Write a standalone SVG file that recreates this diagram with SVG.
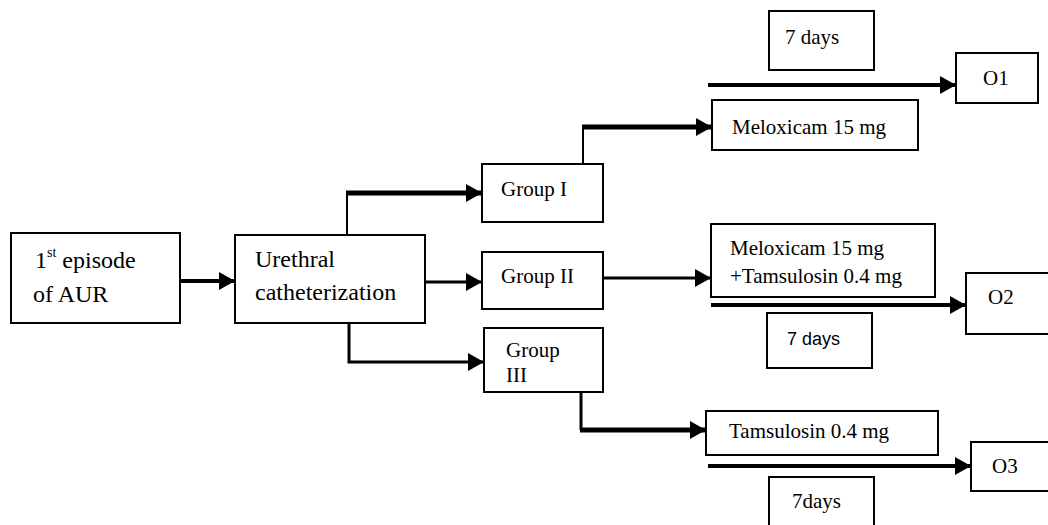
<svg xmlns="http://www.w3.org/2000/svg" width="1048" height="525" viewBox="0 0 1048 525">
<style>
.box{fill:#fff;stroke:#000;stroke-width:2}
.t{font-family:"Liberation Serif","Times New Roman",serif;font-size:21px;fill:#000}
.tl{font-family:"Liberation Serif","Times New Roman",serif;font-size:24px;fill:#000}
.ts{font-family:"Liberation Sans",Arial,sans-serif;font-size:18px;fill:#000}
.c{fill:none;stroke:#000}
</style>
<defs>
<marker id="ah" markerUnits="userSpaceOnUse" markerWidth="16" markerHeight="18" refX="16" refY="9" orient="auto">
<path d="M0,0 L16,9 L0,18 z" fill="#000"/>
</marker>
</defs>
<rect width="1048" height="525" fill="#fff"/>
<g id="connectors">
<path class="c" stroke-width="4" d="M180,281 H235" marker-end="url(#ah)"/>
<path class="c" stroke-width="2" d="M347,235 V191"/>
<path class="c" stroke-width="5" d="M346,193 H482" marker-end="url(#ah)"/>
<path class="c" stroke-width="3" d="M423,282 H482" marker-end="url(#ah)"/>
<path class="c" stroke-width="3" d="M349,323 V362 H484" marker-end="url(#ah)"/>
<path class="c" stroke-width="2" d="M583,164 V125"/>
<path class="c" stroke-width="5" d="M582,127 H712" marker-end="url(#ah)"/>
<path class="c" stroke-width="3" d="M603,278 H711" marker-end="url(#ah)"/>
<path class="c" stroke-width="4" d="M708,85 H956" marker-end="url(#ah)"/>
<path class="c" stroke-width="4" d="M711,305 H966" marker-end="url(#ah)"/>
<path class="c" stroke-width="3" d="M581,392 V430"/>
<path class="c" stroke-width="5" d="M580,430 H706" marker-end="url(#ah)"/>
<path class="c" stroke-width="4" d="M708,466 H971" marker-end="url(#ah)"/>
</g>
<g id="aur">
<rect class="box" x="11" y="233" width="169" height="90"/>
<text class="tl" x="35" y="268">1<tspan font-size="14" dy="-11">st</tspan><tspan dy="11"> episode</tspan></text>
<text class="tl" x="33" y="302">of AUR</text>
</g>
<g id="catheter">
<rect class="box" x="235" y="235" width="190" height="88"/>
<text class="tl" x="255" y="267">Urethral</text>
<text class="tl" x="255" y="300">catheterization</text>
</g>
<g id="group1">
<rect class="box" x="482" y="164" width="121" height="58"/>
<text class="t" x="501" y="196">Group  I</text>
</g>
<g id="group2">
<rect class="box" x="482" y="252" width="121" height="57"/>
<text class="t" x="501" y="283">Group  II</text>
</g>
<g id="group3">
<rect class="box" x="484" y="328" width="119" height="64"/>
<text class="t" x="506" y="357">Group</text>
<text class="t" x="506" y="382">III</text>
</g>
<g id="meloxicam">
<rect class="box" x="712" y="100" width="206" height="50"/>
<text class="t" x="732" y="134">Meloxicam 15 mg</text>
</g>
<g id="days1">
<rect class="box" x="769" y="11" width="105" height="59"/>
<text class="t" x="785" y="44">7 days</text>
</g>
<g id="o1">
<rect class="box" x="956" y="53" width="82" height="50"/>
<text class="t" x="983" y="85">O1</text>
</g>
<g id="meltam">
<rect class="box" x="711" y="224" width="224" height="73"/>
<text class="t" x="730" y="255">Meloxicam 15 mg</text>
<text class="t" x="730" y="283">+Tamsulosin 0.4 mg</text>
</g>
<g id="o2">
<rect class="box" x="966" y="273" width="95" height="61"/>
<text class="t" x="988" y="304">O2</text>
</g>
<g id="days2">
<rect class="box" x="767" y="313" width="105" height="55"/>
<text class="ts" x="787" y="345">7 days</text>
</g>
<g id="tamsulosin">
<rect class="box" x="706" y="411" width="232" height="44"/>
<text class="t" x="729" y="438">Tamsulosin 0.4 mg</text>
</g>
<g id="o3">
<rect class="box" x="971" y="442" width="90" height="49"/>
<text class="t" x="992" y="473">O3</text>
</g>
<g id="days3">
<rect class="box" x="769" y="477" width="105" height="60"/>
<text class="t" x="792" y="508">7days</text>
</g>
</svg>
